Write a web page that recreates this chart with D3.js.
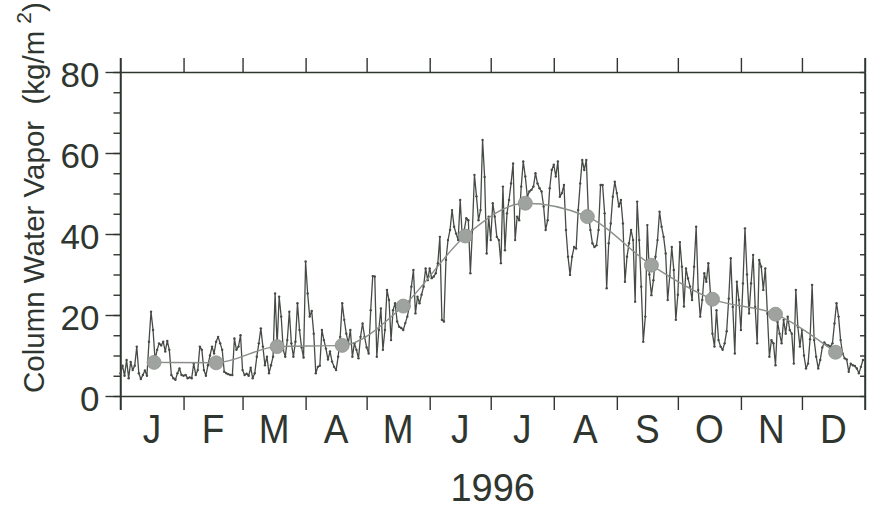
<!DOCTYPE html>
<html>
<head>
<meta charset="utf-8">
<script src="https://cdn.jsdelivr.net/npm/d3@7"></script>
<style>
  html, body { margin: 0; padding: 0; background: #ffffff; }
  svg { display: block; font-family: "Liberation Sans", Arial, Helvetica, sans-serif; }
</style>
</head>
<body>
<svg id="chart" width="870" height="510"></svg>
<script>
// Daily column water vapor (kg/m^2), 1996, one array per month
const vaporJan = [5.6, 7.5, 5, 8.9, 4.4, 8.4, 6.4, 7.5, 12.2, 5.6, 4.2, 5.2, 6.3, 5, 13.4, 20.8, 16.3, 8.9, 11.4, 13, 12.5, 13.4, 11, 13.6, 11.4, 5.2, 4.4, 4, 5.6, 6.8, 5.2];
const vaporFeb = [5, 5.2, 4.4, 4.6, 4.4, 8, 5.2, 6.4, 12.2, 11.4, 6.4, 5, 7.6, 10, 12.2, 10.5, 13.4, 14.6, 13, 11.4, 6, 5.6, 5.4, 5.2, 5.2, 14.2, 11.4, 12.2, 15];
const vaporMar = [6.4, 5.2, 5.5, 5, 7, 4.4, 5.6, 9.7, 13, 16.7, 12.2, 7.6, 9.7, 5.6, 7.6, 9.7, 25.3, 12.6, 24.5, 19.6, 11.4, 9.7, 13.8, 20.8, 13, 9.7, 13.4, 22.9, 16.3, 12, 9.5];
const vaporApr = [33.2, 25.3, 19.6, 21, 15.4, 5.6, 7.2, 7.5, 16.3, 13.8, 11.7, 9, 11, 8.5, 7.2, 6.4, 9.7, 14.6, 22.9, 18.8, 15.4, 13, 16.3, 9.7, 13, 11.4, 9.3, 14.6, 17.9, 14.6];
const vaporMay = [12, 10.5, 21.2, 29.6, 29.5, 9.7, 16.3, 21.6, 11.4, 16.3, 26.2, 23.7, 13.8, 21.2, 22.9, 18.4, 17.1, 16.8, 16.3, 18, 19.6, 22.1, 27, 31.1, 20.4, 24.5, 22.9, 25, 27, 31.5, 28.6];
const vaporJun = [31.5, 29.1, 29.5, 30.3, 32.8, 39.3, 18.8, 18.4, 33.6, 38.5, 41, 45.9, 41.8, 40.1, 38.5, 48.4, 39.3, 41, 43.9, 43.4, 30.3, 41, 54.6, 49.3, 43.4, 45.9, 63.2, 54.1, 35.2, 44.3];
const vaporJul = [38.5, 47.6, 44.3, 39.3, 38.5, 32.8, 51.7, 36, 45.1, 48.4, 52.5, 57.4, 38.5, 44.3, 43.4, 51.7, 57.9, 54.2, 49.2, 50.5, 50.9, 51.7, 55, 52.5, 51.3, 50.5, 46.8, 41, 43.4, 51.3, 55.8];
const vaporAug = [57.1, 54.2, 57.9, 49.2, 50.1, 52.1, 41, 34.4, 29.9, 34.4, 36.8, 36.4, 45.9, 52.5, 58.3, 55.8, 58.3, 45.1, 41, 37.7, 36.8, 37.2, 41, 52.1, 52.1, 45.1, 26.6, 37.7, 42.6, 49.2, 52.9];
const vaporSep = [50.1, 46.8, 48.4, 42.6, 28.2, 34.4, 37.7, 41, 38.5, 23.3, 48, 38.5, 27, 13.4, 19.6, 42.2, 30, 24.9, 28.6, 34.4, 38.5, 45.5, 41.8, 39.3, 35.2, 23.7, 29.5, 36.8, 31.1, 18.8];
const vaporOct = [25, 38, 31.9, 22.1, 31.5, 29, 27, 23.7, 31.9, 41.8, 26.2, 19.6, 23.7, 30.3, 28.2, 32.8, 25.4, 15.4, 12.2, 21.2, 13.8, 12.2, 11.4, 13, 16, 24, 34, 22, 10.5, 28.2, 23.7];
const vaporNov = [16.3, 27.8, 41.4, 30, 20.4, 27.8, 34.8, 22, 13, 33.6, 31.9, 26.2, 31.5, 20.4, 9.7, 13.8, 13, 7.6, 18.3, 15.4, 13, 18.8, 15.4, 19.6, 16.3, 15.4, 8, 26.2, 17.1, 12.2];
const vaporDec = [16.3, 10, 6.8, 8, 14, 27.4, 13.8, 9.7, 6.8, 8.9, 12, 13.2, 12.6, 12.5, 12.2, 13, 17.9, 22.9, 19.6, 13.8, 10.5, 9.3, 9, 6, 8, 7.6, 7.4, 6.8, 5.6, 7.2, 8.9];

// Monthly means and the dates they are plotted at
const monthlyMean = [8.3, 8.2, 12.2, 12.5, 22.2, 39.5, 47.6, 44.3, 32.3, 23.9, 20.2, 10.8];
const monthlyMeanDate = ["1996-01-17T12:00Z", "1996-02-17T00:00Z", "1996-03-18T00:00Z", "1996-04-19T00:00Z",
  "1996-05-19T00:00Z", "1996-06-18T12:00Z", "1996-07-18T00:00Z", "1996-08-17T12:00Z",
  "1996-09-18T00:00Z", "1996-10-18T00:00Z", "1996-11-18T00:00Z", "1996-12-17T12:00Z"];

const monthLetters = ["J", "F", "M", "A", "M", "J", "J", "A", "S", "O", "N", "D"];
const yMajorTicks = [0, 20, 40, 60, 80];
const yMinorTicks = d3.range(0, 81, 5);
const yearLabel = "1996";
const yTitle = "Column Water Vapor  (kg/m";

// ---- assemble series ----
const yearStart = new Date(Date.UTC(1996, 0, 1));
const yearEnd = new Date(Date.UTC(1997, 0, 1));
const dailyValues = [].concat(vaporJan, vaporFeb, vaporMar, vaporApr, vaporMay, vaporJun,
  vaporJul, vaporAug, vaporSep, vaporOct, vaporNov, vaporDec);
const daily = dailyValues.map((v, i) => ({ date: d3.utcDay.offset(yearStart, i), v }));
const means = monthlyMean.map((v, i) => ({ date: new Date(monthlyMeanDate[i]), v }));

// ---- layout ----
const plot = { left: 120.5, right: 865, top: 72, bottom: 396 };
const ink = "#2f352f";

const svg = d3.select("#chart");
svg.append("rect").attr("width", 870).attr("height", 510).attr("fill", "#ffffff");

const x = d3.scaleUtc().domain([yearStart, yearEnd]).range([plot.left, plot.right]);
const y = d3.scaleLinear().domain([0, 80]).range([plot.bottom, plot.top]);

const monthStarts = d3.utcMonth.range(yearStart, d3.utcDay.offset(yearEnd, 1));

function styleAxis(g) {
  g.selectAll("path, line").attr("stroke", ink).attr("stroke-width", 1.4);
  g.selectAll("text").remove();
}

// top and bottom month boundary ticks
svg.append("g").attr("transform", `translate(0,${plot.top})`)
  .call(d3.axisTop(x).tickValues(monthStarts).tickSize(14).tickSizeOuter(0).tickFormat(""))
  .call(styleAxis);
svg.append("g").attr("transform", `translate(0,${plot.bottom})`)
  .call(d3.axisBottom(x).tickValues(monthStarts).tickSize(14).tickSizeOuter(0).tickFormat(""))
  .call(styleAxis);

// left axis: minor then major ticks (outward)
svg.append("g").attr("transform", `translate(${plot.left},0)`)
  .call(d3.axisLeft(y).tickValues(yMinorTicks).tickSize(7).tickSizeOuter(0).tickFormat(""))
  .call(styleAxis);
const leftMajor = svg.append("g").attr("transform", `translate(${plot.left},0)`)
  .call(d3.axisLeft(y).tickValues(yMajorTicks).tickSize(15).tickSizeOuter(0).tickPadding(6));
leftMajor.select(".domain").remove();
leftMajor.selectAll("line").attr("stroke", ink).attr("stroke-width", 1.4);
leftMajor.selectAll("text")
  .attr("font-size", 35).attr("fill", ink).attr("dy", "0.42em")
  .attr("font-family", "'Liberation Sans', Arial, Helvetica, sans-serif");

// right axis: short inward ticks
svg.append("g").attr("transform", `translate(${plot.right},0)`)
  .call(d3.axisRight(y).tickValues(yMinorTicks).tickSizeInner(-5).tickSizeOuter(0).tickFormat(""))
  .call(styleAxis);

// vertical frame lines spanning the boundary ticks
[plot.left, plot.right].forEach(px => {
  svg.append("line").attr("x1", px).attr("x2", px)
    .attr("y1", plot.top - 14).attr("y2", plot.bottom + 14)
    .attr("stroke", ink).attr("stroke-width", 1.5);
});

// month letters centred on each month (slightly tall glyphs)
const monthMids = monthStarts.slice(0, 12).map(d => new Date((+d + +d3.utcMonth.offset(d, 1)) / 2));
svg.append("g").selectAll("text").data(monthLetters).join("text")
  .attr("transform", (d, i) => `translate(${x(monthMids[i])},443) scale(1,1.1)`)
  .attr("text-anchor", "middle")
  .attr("font-size", 37)
  .attr("fill", ink)
  .text(d => d);

// year label
svg.append("text")
  .attr("x", (plot.left + plot.right) / 2).attr("y", 501)
  .attr("text-anchor", "middle").attr("font-size", 38).attr("fill", ink)
  .text(yearLabel);

// y-axis title with superscript
const title = svg.append("text")
  .attr("transform", "translate(44,393) rotate(-90)")
  .attr("font-size", 29.5).attr("fill", ink)
  .style("white-space", "pre");
title.append("tspan").text(yTitle);
title.append("tspan").attr("dx", 7).attr("dy", -13).attr("font-size", 21).text("2");
title.append("tspan").attr("dy", 13).text(")");

// daily series
const dayLine = d3.line().x(d => x(d.date)).y(d => y(d.v));
svg.append("path").datum(daily)
  .attr("d", dayLine)
  .attr("fill", "none").attr("stroke", "#464b46").attr("stroke-width", 1.3)
  .attr("stroke-linejoin", "round");
svg.append("g").selectAll("circle").data(daily).join("circle")
  .attr("cx", d => x(d.date)).attr("cy", d => y(d.v)).attr("r", 1.2)
  .attr("fill", "#464b46");

// smooth curve through monthly means
const meanLine = d3.line().curve(d3.curveMonotoneX).x(d => x(d.date)).y(d => y(d.v));
svg.append("path").datum(means)
  .attr("d", meanLine)
  .attr("fill", "none").attr("stroke", "#8a8f8a").attr("stroke-width", 1.4);

svg.append("g").selectAll("circle").data(means).join("circle")
  .attr("cx", d => x(d.date)).attr("cy", d => y(d.v)).attr("r", 7)
  .attr("fill", "#9fa39f").attr("stroke", "#8f938f").attr("stroke-width", 0.8);
</script>
</body>
</html>
